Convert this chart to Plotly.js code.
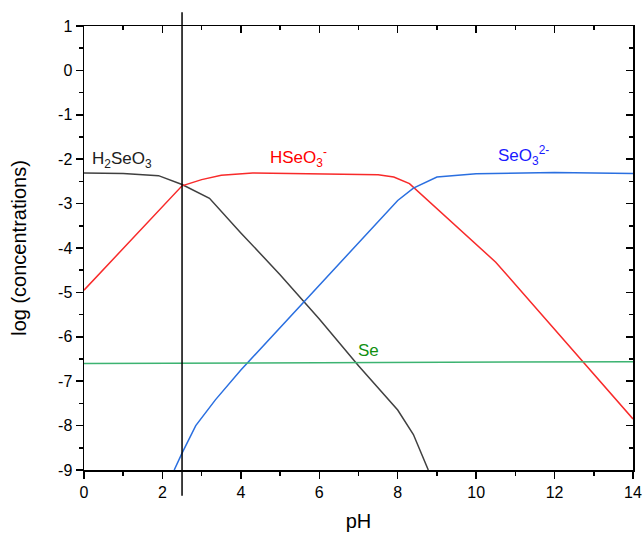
<!DOCTYPE html>
<html>
<head>
<meta charset="utf-8">
<script src="https://cdn.plot.ly/plotly-3.0.1.min.js"></script>
<style>html,body{margin:0;padding:0;background:#fff;}#chart{width:644px;height:540px;}</style>
</head>
<body>
<div id="chart"></div>
<script>
// pH values and log concentrations per species
const h2seo3_pH  = [0, 1, 1.9, 2.5, 3.2, 4, 5, 6, 7, 8, 8.4, 8.78];
const h2seo3_log = [-2.31, -2.32, -2.37, -2.57, -2.88, -3.66, -4.6, -5.6, -6.65, -7.65, -8.2, -9];

const hseo3_pH  = [0, 2.5, 3.0, 3.5, 4.3, 7.5, 7.9, 8.3, 10.5, 14];
const hseo3_log = [-4.95, -2.6, -2.46, -2.36, -2.31, -2.35, -2.4, -2.55, -4.32, -7.85];

const seo3_pH  = [2.3, 2.5, 2.85, 3.35, 4, 5, 6, 7, 8, 8.4, 9, 10, 12, 14];
const seo3_log = [-9, -8.62, -8.0, -7.42, -6.75, -5.8, -4.85, -3.9, -2.93, -2.65, -2.4, -2.33, -2.3, -2.32];

const se_pH  = [0, 14];
const se_log = [-6.6, -6.56];

const xTicks = [0, 2, 4, 6, 8, 10, 12, 14];
const yTicks = [1, 0, -1, -2, -3, -4, -5, -6, -7, -8, -9];
const xRange = [0, 14];
const yRange = [-9, 1];
const markerPH = 2.5;

const font = "Liberation Sans, Arial, sans-serif";

const traces = [
  {x: h2seo3_pH, y: h2seo3_log, mode: 'lines', line: {color: '#404040', width: 1.5}, name: 'H2SeO3'},
  {x: hseo3_pH, y: hseo3_log, mode: 'lines', line: {color: '#f82a2a', width: 1.5}, name: 'HSeO3-'},
  {x: seo3_pH, y: seo3_log, mode: 'lines', line: {color: '#2a6fe0', width: 1.5}, name: 'SeO3 2-'},
  {x: se_pH, y: se_log, mode: 'lines', line: {color: '#3cb371', width: 1.5}, name: 'Se'},
  // invisible helper trace so the mirrored top/right axes get drawn
  {x: xRange, y: yRange, xaxis: 'x2', yaxis: 'y2', mode: 'markers', marker: {opacity: 0}, hoverinfo: 'skip'}
];

const axBase = {
  showgrid: false, zeroline: false, showline: true, linecolor: '#000', linewidth: 1.5,
  tickcolor: '#000', tickwidth: 1.5, ticklen: 7,
  tickfont: {family: font, size: 16, color: '#000'}
};

const layout = {
  width: 644, height: 540,
  margin: {l: 84, r: 11, t: 26, b: 70},
  paper_bgcolor: '#fff', plot_bgcolor: '#fff',
  showlegend: false,
  font: {family: font, color: '#000'},
  xaxis: Object.assign({}, axBase, {
    range: xRange, tickmode: 'array', tickvals: xTicks, ticktext: xTicks.map(String), ticks: 'outside',
    minor: {tickmode: 'linear', tick0: 0, dtick: 1, ticks: 'outside', ticklen: 4, tickwidth: 1.5, tickcolor: '#000', showgrid: false},
    title: {text: 'pH', font: {family: font, size: 20, color: '#000'}, standoff: 14}
  }),
  yaxis: Object.assign({}, axBase, {
    range: yRange, tickmode: 'array', tickvals: yTicks, ticktext: yTicks.map(String), ticks: 'outside',
    minor: {tickmode: 'linear', tick0: 0, dtick: 0.5, ticks: 'outside', ticklen: 4, tickwidth: 1.5, tickcolor: '#000', showgrid: false},
    title: {text: 'log (concentrations)', font: {family: font, size: 20, color: '#000'}, standoff: 26}
  }),
  xaxis2: Object.assign({}, axBase, {
    overlaying: 'x', side: 'top', range: xRange, tickmode: 'linear', tick0: 0, dtick: 2, ticks: 'inside',
    showticklabels: false, anchor: 'y2',
    minor: {tickmode: 'linear', tick0: 0, dtick: 1, ticks: 'inside', ticklen: 4, tickwidth: 1.5, tickcolor: '#000', showgrid: false}
  }),
  yaxis2: Object.assign({}, axBase, {
    overlaying: 'y', side: 'right', range: yRange, tickmode: 'linear', tick0: 0, dtick: 1, ticks: 'inside',
    showticklabels: false, anchor: 'x2',
    minor: {tickmode: 'linear', tick0: 0, dtick: 0.5, ticks: 'inside', ticklen: 4, tickwidth: 1.5, tickcolor: '#000', showgrid: false}
  }),
  shapes: [
    {type: 'line', xref: 'x', yref: 'paper', x0: markerPH, x1: markerPH, y0: -0.058, y1: 1.031,
     line: {color: '#000', width: 1.5}}
  ],
  annotations: [
    {x: 0.15, y: -2.02, xref: 'x', yref: 'y', xanchor: 'left', yanchor: 'middle', showarrow: false,
     text: 'H<sub>2</sub>SeO<sub>3</sub>', font: {family: font, size: 17, color: '#202020'}},
    {x: 5.48, y: -1.97, xref: 'x', yref: 'y', xanchor: 'center', yanchor: 'middle', showarrow: false,
     text: 'HSeO<sub>3</sub><sup>-</sup>', font: {family: font, size: 17, color: '#ff0000'}},
    {x: 11.2, y: -1.92, xref: 'x', yref: 'y', xanchor: 'center', yanchor: 'middle', showarrow: false,
     text: 'SeO<sub>3</sub><sup>2-</sup>', font: {family: font, size: 17, color: '#1a1aff'}},
    {x: 7.25, y: -6.31, xref: 'x', yref: 'y', xanchor: 'center', yanchor: 'middle', showarrow: false,
     text: 'Se', font: {family: font, size: 17, color: '#109010'}}
  ]
};

Plotly.newPlot('chart', traces, layout, {staticPlot: true, displayModeBar: false});
</script>
</body>
</html>
